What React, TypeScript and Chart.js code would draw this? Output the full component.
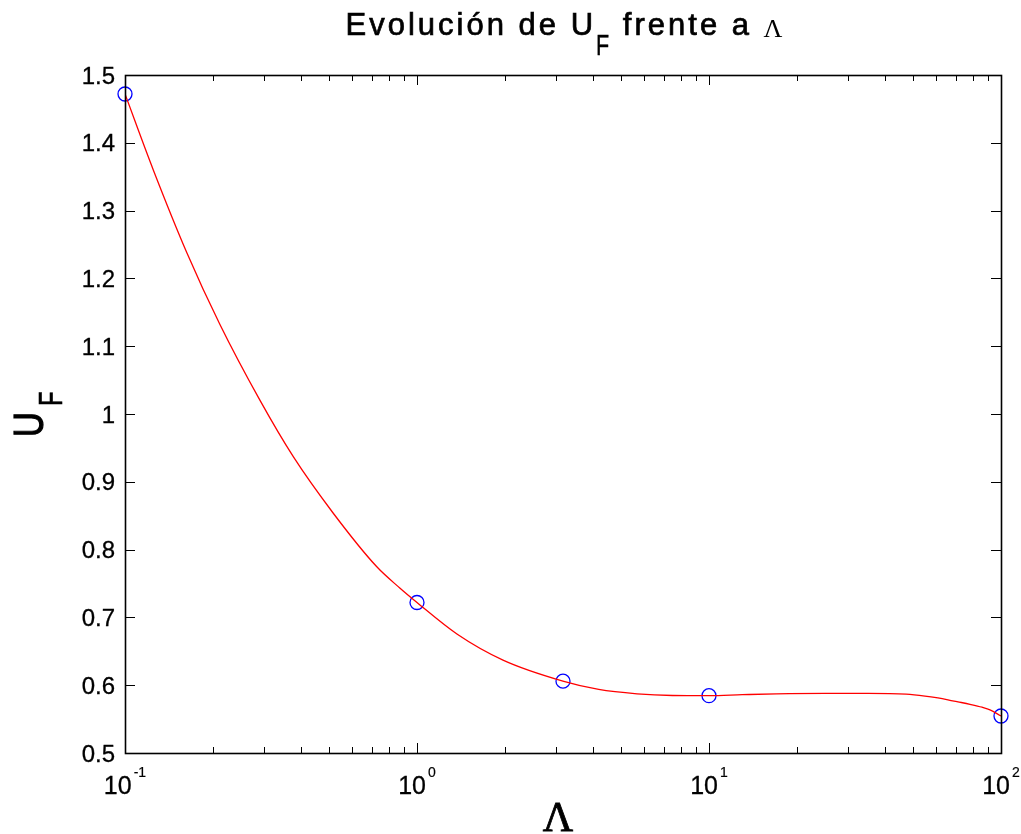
import { useEffect, useRef } from "react";
import { Chart, registerables } from "chart.js";

Chart.register(...registerables);

// Marker points (blue circles)
const markerLambda = [0.1, 1, 3.1623, 10, 100];
const markerUF = [1.472, 0.722, 0.606, 0.5845, 0.5546];

// Smooth red curve
const curveLambda = [
  0.1, 0.125, 0.163, 0.211, 0.29, 0.377, 0.516, 0.727, 0.873, 1, 1.37, 1.97,
  3.16, 4.19, 5.67, 7.5, 10, 13, 17, 25, 35, 47.3, 54.9, 60.8, 65.8,
  71.2, 78.3, 86.1, 91.7, 100,
];
const curveUF = [
  1.472, 1.36, 1.2375, 1.1327, 1.02, 0.937, 0.854, 0.775, 0.7434, 0.722,
  0.6755, 0.637, 0.606, 0.5937, 0.5873, 0.5848, 0.5845, 0.586, 0.5873, 0.588,
  0.588, 0.5868, 0.584, 0.5812, 0.5785, 0.5755, 0.5718, 0.5675,
  0.5637, 0.5546,
];

// Axis ticks
const yTickValues = [0.5, 0.6, 0.7, 0.8, 0.9, 1, 1.1, 1.2, 1.3, 1.4, 1.5];
const yTickLabels = ["0.5", "0.6", "0.7", "0.8", "0.9", "1", "1.1", "1.2", "1.3", "1.4", "1.5"];
const xDecades = [0.1, 1, 10, 100];
const xDecadeBase = ["10", "10", "10", "10"];
const xDecadeExp = ["-1", "0", "1", "2"];
const minorMultipliers = [2, 3, 4, 5, 6, 7, 8, 9];

// Texts
const titleMain = "Evolución de U";
const titleSub = "F";
const titleRest = " frente a ";
const titleGreek = "Λ";
const xLabel = "Λ";
const yLabelMain = "U";
const yLabelSub = "F";

const SANS = "'Liberation Sans', Arial, Helvetica, sans-serif";
const SERIF = "'Liberation Serif', 'Times New Roman', serif";

function boldText(ctx: any, text: string, x: number, y: number, w: number) {
  ctx.fillText(text, x, y);
  if (w > 0) {
    ctx.lineWidth = w;
    ctx.strokeText(text, x, y);
  }
}

const matlabAxes = {
  id: "matlabAxes",
  afterDraw(chart: any) {
    const { ctx, chartArea: a, scales } = chart;
    const xs = scales.x;
    const ys = scales.y;
    ctx.save();
    ctx.strokeStyle = "#000";
    ctx.fillStyle = "#000";

    // Box
    ctx.lineWidth = 1.6;
    ctx.strokeRect(a.left + 0.5, a.top + 0.5, a.right - a.left, a.bottom - a.top);

    // Ticks
    ctx.lineWidth = 1;
    ctx.beginPath();
    yTickValues.forEach((v) => {
      const py = Math.round(ys.getPixelForValue(v)) + 0.5;
      ctx.moveTo(a.left, py);
      ctx.lineTo(a.left + 10, py);
      ctx.moveTo(a.right, py);
      ctx.lineTo(a.right - 10, py);
    });
    xDecades.forEach((v) => {
      const px = Math.round(xs.getPixelForValue(v)) + 0.5;
      ctx.moveTo(px, a.bottom);
      ctx.lineTo(px, a.bottom - 10);
      ctx.moveTo(px, a.top);
      ctx.lineTo(px, a.top + 10);
    });
    for (let i = 0; i < xDecades.length - 1; i++) {
      minorMultipliers.forEach((m) => {
        const px = Math.round(xs.getPixelForValue(xDecades[i] * m)) + 0.5;
        ctx.moveTo(px, a.bottom);
        ctx.lineTo(px, a.bottom - 6);
        ctx.moveTo(px, a.top);
        ctx.lineTo(px, a.top + 6);
      });
    }
    ctx.stroke();

    // Y tick labels
    ctx.font = `24px ${SANS}`;
    ctx.textAlign = "right";
    ctx.textBaseline = "alphabetic";
    yTickValues.forEach((v, i) => {
      const py = ys.getPixelForValue(v);
      boldText(ctx, yTickLabels[i], a.left - 10, py + 8.5, 0.3);
    });

    // X tick labels (10^n)
    ctx.textAlign = "left";
    xDecades.forEach((v, i) => {
      const px = xs.getPixelForValue(v);
      ctx.font = `25px ${SANS}`;
      const w1 = ctx.measureText(xDecadeBase[i]).width;
      ctx.font = `14px ${SANS}`;
      const w2 = ctx.measureText(xDecadeExp[i]).width;
      const gap = 2;
      const start = px - (w1 + gap + w2) / 2;
      ctx.font = `25px ${SANS}`;
      boldText(ctx, xDecadeBase[i], start, a.bottom + 41, 0.3);
      ctx.font = `14px ${SANS}`;
      boldText(ctx, xDecadeExp[i], start + w1 + gap, a.bottom + 24, 0.2);
    });

    // X axis label
    ctx.font = `42px ${SERIF}`;
    ctx.textAlign = "center";
    boldText(ctx, xLabel, (a.left + a.right) / 2 - 5, a.bottom + 78, 0.8);

    // Y axis label (rotated U_F)
    const cy = (a.top + a.bottom) / 2 + 23;
    ctx.save();
    ctx.translate(43, cy);
    ctx.rotate(-Math.PI / 2);
    ctx.textAlign = "left";
    ctx.save();
    ctx.scale(0.82, 1);
    ctx.font = `42px ${SANS}`;
    boldText(ctx, yLabelMain, 0, 0, 1.2);
    ctx.restore();
    ctx.save();
    ctx.translate(31, 19);
    ctx.scale(0.72, 1);
    ctx.font = `33px ${SANS}`;
    boldText(ctx, yLabelSub, 0, 0, 0.6);
    ctx.restore();
    ctx.restore();

    // Title
    const tBase = 35;
    ctx.textAlign = "left";
    (ctx as any).letterSpacing = "3px";
    ctx.font = `31px ${SANS}`;
    const wMain = ctx.measureText(titleMain).width;
    const wRest = ctx.measureText(titleRest).width;
    (ctx as any).letterSpacing = "0px";
    ctx.font = `30px ${SANS}`;
    const wSub = ctx.measureText(titleSub).width * 0.72;
    ctx.font = `26px ${SERIF}`;
    const wGreek = ctx.measureText(titleGreek).width;
    const total = wMain + wSub + wRest + wGreek;
    let tx = (a.left + a.right) / 2 - total / 2;
    (ctx as any).letterSpacing = "3px";
    ctx.font = `31px ${SANS}`;
    boldText(ctx, titleMain, tx, tBase, 0.7);
    tx += wMain;
    (ctx as any).letterSpacing = "0px";
    ctx.save();
    ctx.translate(tx, tBase + 20);
    ctx.scale(0.72, 1);
    ctx.font = `30px ${SANS}`;
    boldText(ctx, titleSub, 0, 0, 0.4);
    ctx.restore();
    tx += wSub + 2;
    (ctx as any).letterSpacing = "3px";
    ctx.font = `31px ${SANS}`;
    boldText(ctx, titleRest, tx, tBase, 0.7);
    tx += wRest;
    (ctx as any).letterSpacing = "0px";
    ctx.font = `26px ${SERIF}`;
    ctx.fillText(titleGreek, tx, tBase + 2);

    ctx.restore();
  },
};

export default function App() {
  const canvasRef = useRef<HTMLCanvasElement | null>(null);

  useEffect(() => {
    const canvas = canvasRef.current;
    if (!canvas) return;
    const chart = new Chart(canvas, {
      type: "line",
      data: {
        datasets: [
          {
            label: "curve",
            data: curveLambda.map((x, i) => ({ x, y: curveUF[i] })),
            borderColor: "#ff0000",
            borderWidth: 1.3,
            pointRadius: 0,
            cubicInterpolationMode: "monotone",
            fill: false,
          },
          {
            label: "points",
            data: markerLambda.map((x, i) => ({ x, y: markerUF[i] })),
            showLine: false,
            pointStyle: "circle",
            pointRadius: 7,
            pointBorderColor: "#0000ff",
            pointBackgroundColor: "rgba(0,0,0,0)",
            pointBorderWidth: 1.3,
            borderColor: "#0000ff",
            clip: false as any,
          },
        ],
      },
      options: {
        animation: false,
        responsive: false,
        devicePixelRatio: 1,
        layout: { padding: { top: 75, right: 20, left: 0, bottom: 0 } },
        plugins: {
          legend: { display: false },
          tooltip: { enabled: false },
          title: { display: false },
        },
        scales: {
          x: {
            type: "logarithmic",
            min: 0.1,
            max: 100,
            ticks: { display: false },
            grid: { display: false },
            border: { display: false },
            afterFit: (s: any) => {
              s.height = 81;
            },
          },
          y: {
            type: "linear",
            min: 0.5,
            max: 1.5,
            ticks: { display: false },
            grid: { display: false },
            border: { display: false },
            afterFit: (s: any) => {
              s.width = 125;
            },
          },
        },
      },
      plugins: [matlabAxes],
    });
    return () => chart.destroy();
  }, []);

  return (
    <div style={{ position: "fixed", left: 0, top: 0, width: 1021, height: 834, background: "#fff" }}>
      <canvas ref={canvasRef} width={1021} height={834} style={{ display: "block" }} />
    </div>
  );
}
